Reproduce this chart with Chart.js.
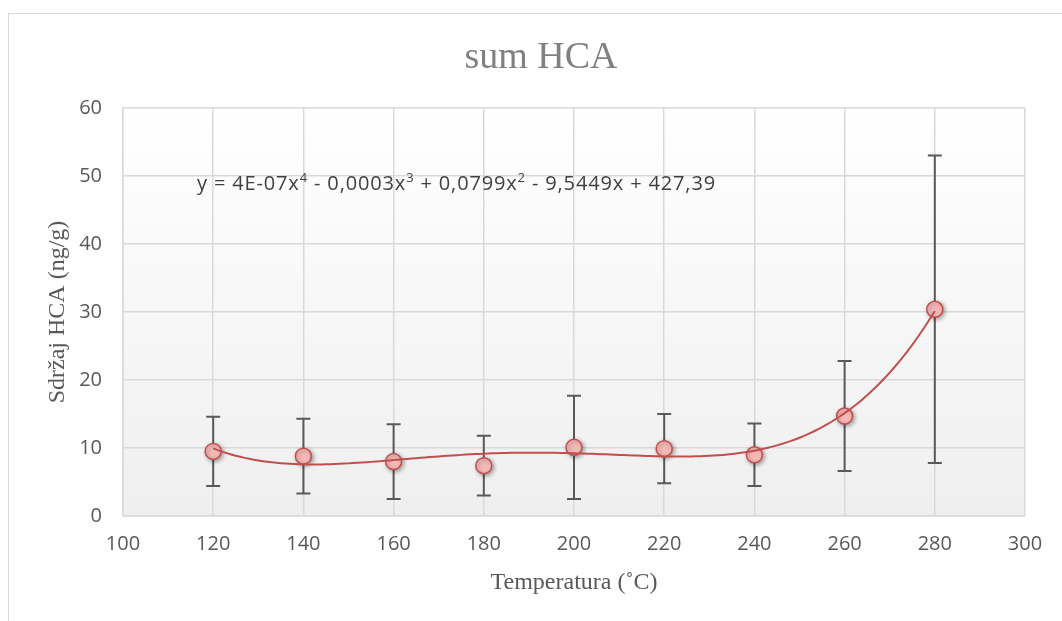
<!DOCTYPE html>
<html>
<head>
<meta charset="utf-8">
<script src="https://cdn.jsdelivr.net/npm/chart.js@4/dist/chart.umd.min.js"></script>
<style>
  html,body{margin:0;padding:0;background:#fff;}
  #wrap{position:relative;width:1062px;height:621px;overflow:hidden;}
  #frame{position:absolute;left:8px;top:13px;width:1200px;height:800px;border-left:1px solid #d9d9d9;border-top:1px solid #d9d9d9;}
  canvas{position:absolute;left:0;top:0;}
</style>
</head>
<body>
<div id="wrap"><div id="frame"></div><canvas id="c" width="1062" height="621"></canvas></div>
<script>
// ---- data ----
const temperatures = [120, 140, 160, 180, 200, 220, 240, 260, 280];
const hcaMean      = [9.5, 8.8, 8.0, 7.4, 10.1, 9.9, 9.0, 14.7, 30.4];
const hcaError     = [5.1, 5.5, 5.5, 4.4, 7.6, 5.1, 4.6, 8.1, 22.6];
const xTickValues  = [100, 120, 140, 160, 180, 200, 220, 240, 260, 280, 300];
const yTickValues  = [0, 10, 20, 30, 40, 50, 60];
const chartTitle   = 'sum HCA';
const xAxisTitle   = 'Temperatura (˚C)';
const yAxisTitle   = 'Sdržaj HCA (ng/g)';
// equation pieces: [text, isSuperscript]
const equationParts = [
  ['y = 4E-07x', false], ['4', true], [' - 0,0003x', false], ['3', true],
  [' + 0,0799x', false], ['2', true], [' - 9,5449x + 427,39', false]
];

// ---- 4th order least-squares trendline (as the original spreadsheet computes it) ----
function polyFit(xs, ys, deg){
  const c = 200, s = 80;
  const n = deg + 1;
  const A = Array.from({length:n}, () => new Array(n + 1).fill(0));
  xs.forEach((x, k) => {
    const t = (x - c) / s;
    for (let i = 0; i < n; i++) {
      for (let j = 0; j < n; j++) A[i][j] += Math.pow(t, i + j);
      A[i][n] += ys[k] * Math.pow(t, i);
    }
  });
  for (let i = 0; i < n; i++) {
    let p = i;
    for (let r = i + 1; r < n; r++) if (Math.abs(A[r][i]) > Math.abs(A[p][i])) p = r;
    [A[i], A[p]] = [A[p], A[i]];
    for (let r = 0; r < n; r++) {
      if (r === i) continue;
      const f = A[r][i] / A[i][i];
      for (let j = i; j <= n; j++) A[r][j] -= f * A[i][j];
    }
  }
  const coef = A.map((row, i) => row[n] / row[i]);
  return x => { const t = (x - c) / s; return coef.reduce((acc, a, i) => acc + a * Math.pow(t, i), 0); };
}
const trend = polyFit(temperatures, hcaMean, 4);
const trendData = [];
for (let x = temperatures[0]; x <= temperatures[temperatures.length - 1]; x += 1) trendData.push({x: x, y: trend(x)});

const pointData = temperatures.map((t, i) => ({x: t, y: hcaMean[i]}));

const decorPlugin = {
  id: 'decor',
  beforeDraw(chart){
    const {ctx, chartArea: a} = chart;
    const g = ctx.createLinearGradient(0, a.top, 0, a.bottom);
    g.addColorStop(0, '#ffffff');
    g.addColorStop(1, '#efefef');
    ctx.save();
    ctx.fillStyle = g;
    ctx.fillRect(a.left, a.top, a.right - a.left, a.bottom - a.top);
    ctx.restore();
  },
  beforeDatasetsDraw(chart){
    const {ctx} = chart;
    const xs = chart.scales.x, ys = chart.scales.y;
    ctx.save();
    ctx.strokeStyle = '#595959';
    ctx.lineWidth = 2;
    temperatures.forEach((t, i) => {
      const px = xs.getPixelForValue(t);
      const top = ys.getPixelForValue(hcaMean[i] + hcaError[i]);
      const bot = ys.getPixelForValue(hcaMean[i] - hcaError[i]);
      ctx.beginPath();
      ctx.moveTo(px, top); ctx.lineTo(px, bot);
      ctx.moveTo(px - 7, top); ctx.lineTo(px + 7, top);
      ctx.moveTo(px - 7, bot); ctx.lineTo(px + 7, bot);
      ctx.stroke();
    });
    ctx.restore();
  },
  beforeDatasetDraw(chart, args){
    if (args.index === 1) {
      chart.ctx.shadowColor = 'rgba(0,0,0,0.35)';
      chart.ctx.shadowBlur = 4;
      chart.ctx.shadowOffsetX = 1.5;
      chart.ctx.shadowOffsetY = 1.5;
    }
  },
  afterDatasetDraw(chart, args){
    if (args.index === 1) {
      chart.ctx.shadowColor = 'rgba(0,0,0,0)';
      chart.ctx.shadowBlur = 0;
      chart.ctx.shadowOffsetX = 0;
      chart.ctx.shadowOffsetY = 0;
    }
  },
  afterDraw(chart){
    const {ctx, chartArea: a} = chart;
    const xs = chart.scales.x, ys = chart.scales.y;
    ctx.save();
    // title
    ctx.fillStyle = '#808080';
    ctx.font = '38px "Liberation Serif"';
    ctx.textAlign = 'center';
    ctx.textBaseline = 'alphabetic';
    ctx.fillText(chartTitle, 541, 68);
    // axis titles
    ctx.fillStyle = '#595959';
    ctx.font = '24px "Liberation Serif"';
    ctx.textBaseline = 'middle';
    ctx.fillText(xAxisTitle, (a.left + a.right) / 2, 583);
    ctx.save();
    ctx.translate(58, (a.top + a.bottom) / 2);
    ctx.rotate(-Math.PI / 2);
    ctx.fillText(yAxisTitle, 0, 0);
    ctx.restore();
    // trendline equation
    ctx.fillStyle = '#404040';
    ctx.textAlign = 'left';
    ctx.textBaseline = 'alphabetic';
    const mainFont = '20px "Open Sans"', supFont = '13px "Open Sans"';
    const targetWidth = 519;
    let natural = 0, nChars = 0;
    equationParts.forEach(([t, sup]) => {
      ctx.font = sup ? supFont : mainFont;
      natural += ctx.measureText(t).width;
      nChars += t.length;
    });
    const spacing = Math.max(0, (targetWidth - natural) / nChars);
    let px = xs.getPixelForValue(116.4);
    const base = ys.getPixelForValue(49) + 7;
    equationParts.forEach(([t, sup]) => {
      ctx.font = sup ? supFont : mainFont;
      for (const ch of t) {
        ctx.fillText(ch, px, sup ? base - 8 : base);
        px += ctx.measureText(ch).width + spacing;
      }
    });
    ctx.restore();
  }
};

new Chart(document.getElementById('c'), {
  type: 'scatter',
  data: {
    datasets: [
      {
        type: 'line',
        data: trendData,
        borderColor: '#c0504d',
        borderWidth: 2,
        pointRadius: 0,
        fill: false,
        tension: 0,
        order: 0
      },
      {
        data: pointData,
        pointRadius: 8,
        pointBackgroundColor: '#f7b9b8',
        pointBorderColor: '#c0504d',
        pointBorderWidth: 1.5,
        showLine: false,
        order: 1
      }
    ]
  },
  options: {
    responsive: false,
    animation: false,
    devicePixelRatio: 1,
    layout: {padding: {left: 0, top: 108, right: 37, bottom: 0}},
    plugins: {legend: {display: false}, tooltip: {enabled: false}, title: {display: false}},
    scales: {
      x: {
        type: 'linear',
        min: 100, max: 300,
        afterBuildTicks(s){ s.ticks = xTickValues.map(v => ({value: v})); },
        afterFit(s){ s.height = 105; },
        grid: {color: '#d9d9d9', lineWidth: 1.5, drawTicks: false},
        border: {color: '#d9d9d9', width: 1.5},
        ticks: {color: '#595959', font: {family: 'Open Sans', size: 20}, padding: 16, maxRotation: 0}
      },
      y: {
        type: 'linear',
        min: 0, max: 60,
        afterBuildTicks(s){ s.ticks = yTickValues.map(v => ({value: v})); },
        afterFit(s){ s.width = 123; },
        grid: {color: '#d9d9d9', lineWidth: 1.5, drawTicks: false},
        border: {color: '#d9d9d9', width: 1.5},
        ticks: {color: '#595959', font: {family: 'Open Sans', size: 20}, padding: 21}
      }
    }
  },
  plugins: [decorPlugin]
});
</script>
</body>
</html>
